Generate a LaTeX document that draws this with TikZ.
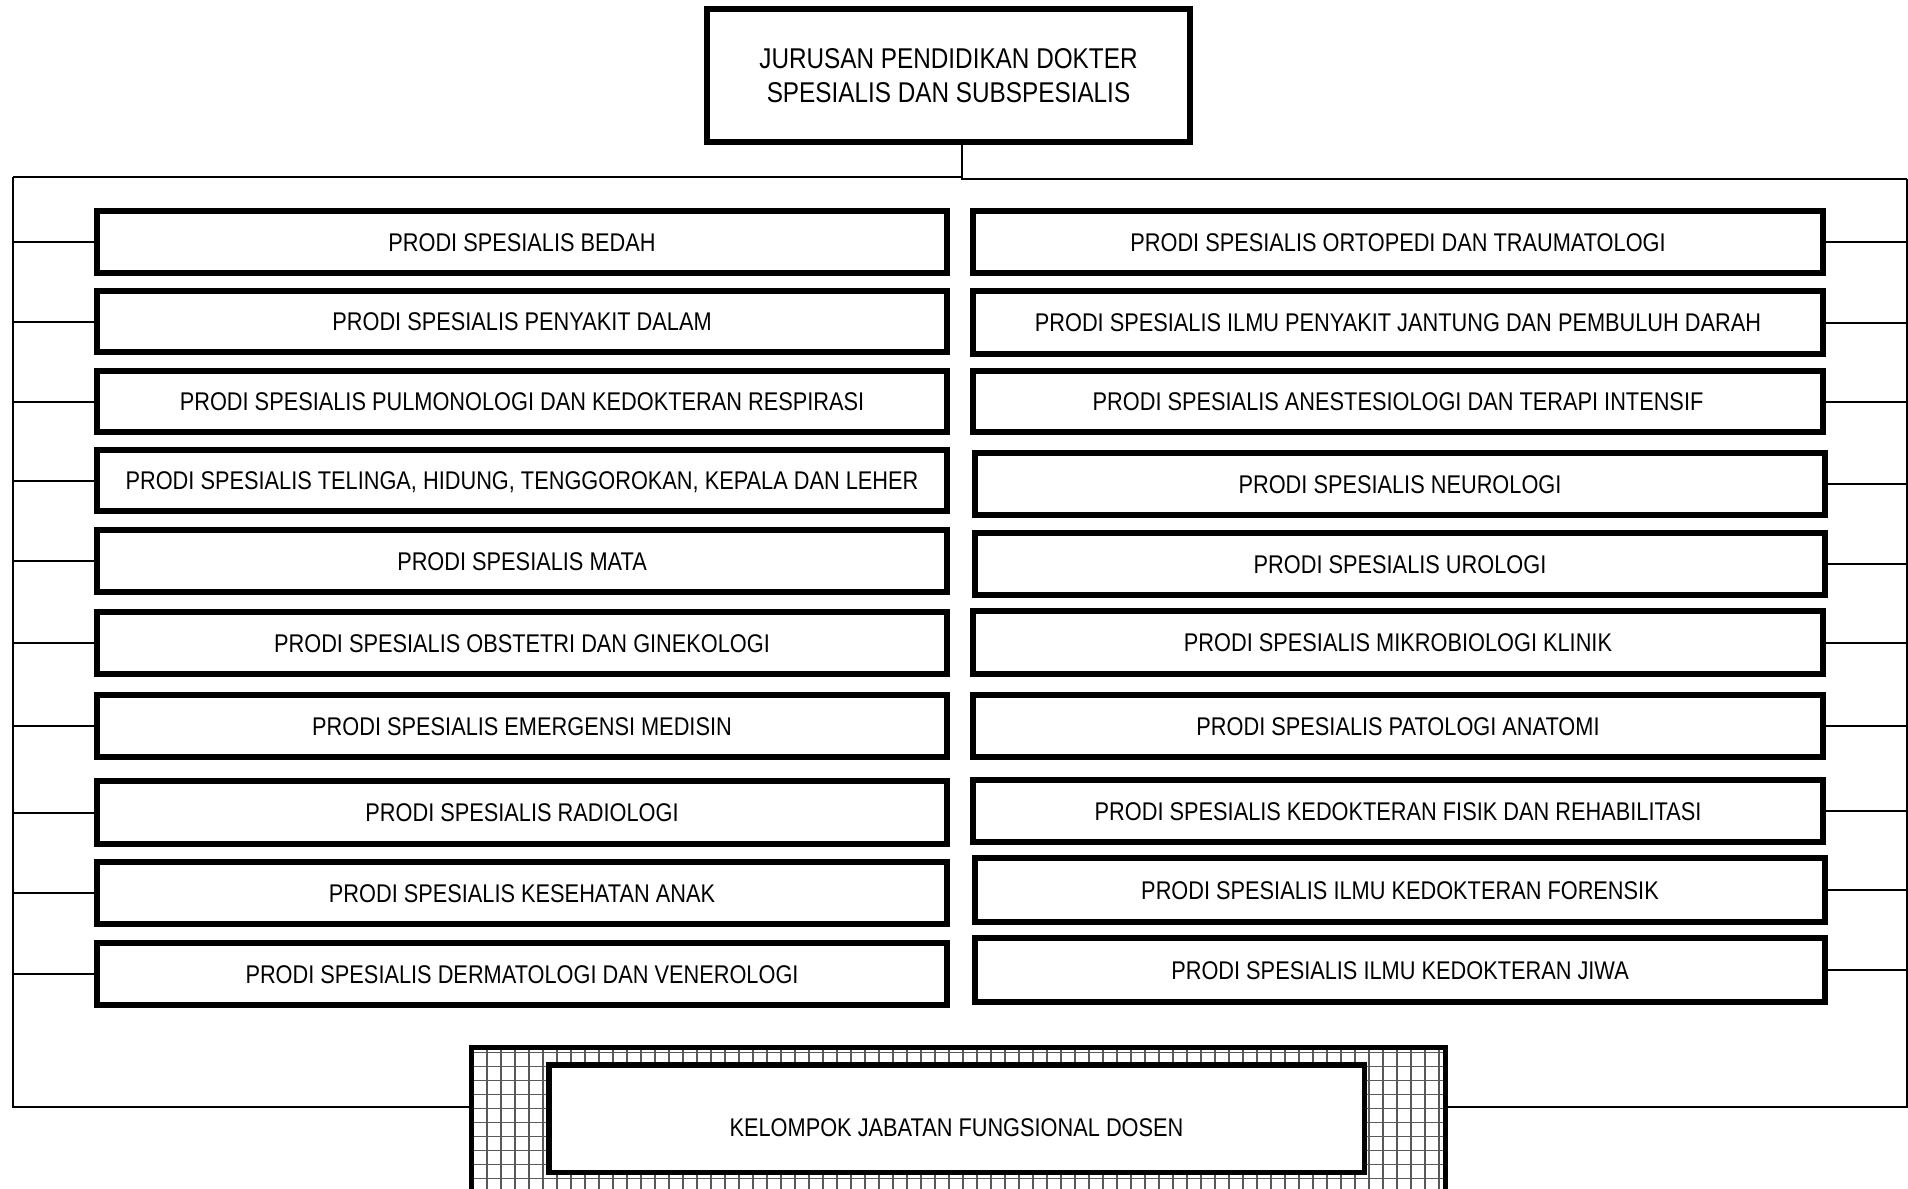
\documentclass[tikz,border=0pt]{standalone}
\usepackage{fontspec}
\setmainfont{Liberation Sans}[FakeStretch=0.85]
\begin{document}
\begin{tikzpicture}[x=0.5pt,y=-0.5pt,
  pbox/.style={draw, line width=2.75pt, inner sep=0pt, fill=white,
    text height=9.17pt, text depth=0pt,
    font=\fontsize{12.8}{15}\selectfont},
  headbox/.style={draw, line width=3pt, inner sep=0pt, align=center,
    font=\fontsize{14.3}{17}\selectfont},
  conn/.style={line width=1pt},
  hatch/.style={line width=0.9pt, black!65},
]
\clip (0,0) rectangle (1908,1189);
\useasboundingbox (0,0) rectangle (1908,1189);

% box from its border's corner coordinates (x1,y1) and (x2,y2)
\newcommand\prodi[6][]{%
  \node[pbox, #1, minimum width={(#5-#3)*0.5pt}, minimum height={(#6-#4)*0.5pt}]
    (#2) at ({(#3+#5)/2},{(#4+#6)/2})}

% head of the department
\node[headbox, minimum width={483*0.5pt}, minimum height={133*0.5pt}] (head)
  at (948.5,75.5)
  {JURUSAN PENDIDIKAN DOKTER\\SPESIALIS DAN SUBSPESIALIS};

% study programmes, left column
\prodi{L1}{97}{211}{947}{273}{PRODI SPESIALIS BEDAH};
\prodi{L2}{97}{291}{947}{352}{PRODI SPESIALIS PENYAKIT DALAM};
\prodi{L3}{97}{371}{947}{432}{PRODI SPESIALIS PULMONOLOGI DAN KEDOKTERAN RESPIRASI};
\prodi{L4}{97}{450}{947}{511}{PRODI SPESIALIS TELINGA, HIDUNG, TENGGOROKAN, KEPALA DAN LEHER};
\prodi{L5}{97}{530}{947}{592}{PRODI SPESIALIS MATA};
\prodi{L6}{97}{612}{947}{674}{PRODI SPESIALIS OBSTETRI DAN GINEKOLOGI};
\prodi{L7}{97}{695}{947}{757}{PRODI SPESIALIS EMERGENSI MEDISIN};
\prodi{L8}{97}{781}{947}{844}{PRODI SPESIALIS RADIOLOGI};
\prodi{L9}{97}{862}{947}{924}{PRODI SPESIALIS KESEHATAN ANAK};
\prodi{L10}{97}{943}{947}{1005}{PRODI SPESIALIS DERMATOLOGI DAN VENEROLOGI};

% study programmes, right column
\prodi{R1}{973}{211}{1823}{273}{PRODI SPESIALIS ORTOPEDI DAN TRAUMATOLOGI};
\prodi{R2}{973}{291}{1823}{354}{PRODI SPESIALIS ILMU PENYAKIT JANTUNG DAN PEMBULUH DARAH};
\prodi{R3}{973}{371}{1823}{432}{PRODI SPESIALIS ANESTESIOLOGI DAN TERAPI INTENSIF};
\prodi{R4}{975}{453}{1825}{515}{PRODI SPESIALIS NEUROLOGI};
\prodi{R5}{975}{533}{1825}{595}{PRODI SPESIALIS UROLOGI};
\prodi{R6}{973}{611}{1823}{674}{PRODI SPESIALIS MIKROBIOLOGI KLINIK};
\prodi{R7}{973}{695}{1823}{757}{PRODI SPESIALIS PATOLOGI ANATOMI};
\prodi{R8}{973}{780}{1823}{842}{PRODI SPESIALIS KEDOKTERAN FISIK DAN REHABILITASI};
\prodi{R9}{975}{858}{1825}{922}{PRODI SPESIALIS ILMU KEDOKTERAN FORENSIK};
\prodi{R10}{975}{938}{1825}{1002}{PRODI SPESIALIS ILMU KEDOKTERAN JIWA};

% lecturer group: cross-hatched frame with a white panel
\node[minimum width={973.5*0.5pt}, minimum height={167*0.5pt}, inner sep=0pt]
  (kel) at (958.5,1131.25) {};
\begin{scope}
  \clip (kel.north west) rectangle (kel.south east);
  \foreach \x in {473,487,...,1460} \draw[hatch] (\x,1040) -- (\x,1220);
  \foreach \y in {1052.5,1066.5,...,1220} \draw[hatch] (460,\y) -- (1460,\y);
\end{scope}
\draw[line width=2.75pt] (kel.south west) -- (kel.north west)
  -- (kel.north east) -- (kel.south east);
\prodi[text height=17.7pt]{kjf}{548.75}{1064.75}{1364.25}{1172.25}{KELOMPOK JABATAN FUNGSIONAL DOSEN};

% connector trunk
\coordinate (jL) at (13,177);
\coordinate (jR) at (1906.5,179);
\coordinate (bL) at (13,1107);
\coordinate (bR) at (1906.5,1107);
\draw[conn] ([xshift=6.75pt]head.south) |- (jL);
\draw[conn] ([xshift=6.75pt]head.south) |- (jR);
\draw[conn] (jL) -- (bL) -- (bL -| kel.west);
\draw[conn] (jR) -- (bR) -- (bR -| kel.east);

% branches to each programme
\foreach \i in {1,...,10} {
  \draw[conn] (L\i.west) -- (L\i.west -| jL);
  \draw[conn] (R\i.east) -- (R\i.east -| jR);
}
\end{tikzpicture}
\end{document}
